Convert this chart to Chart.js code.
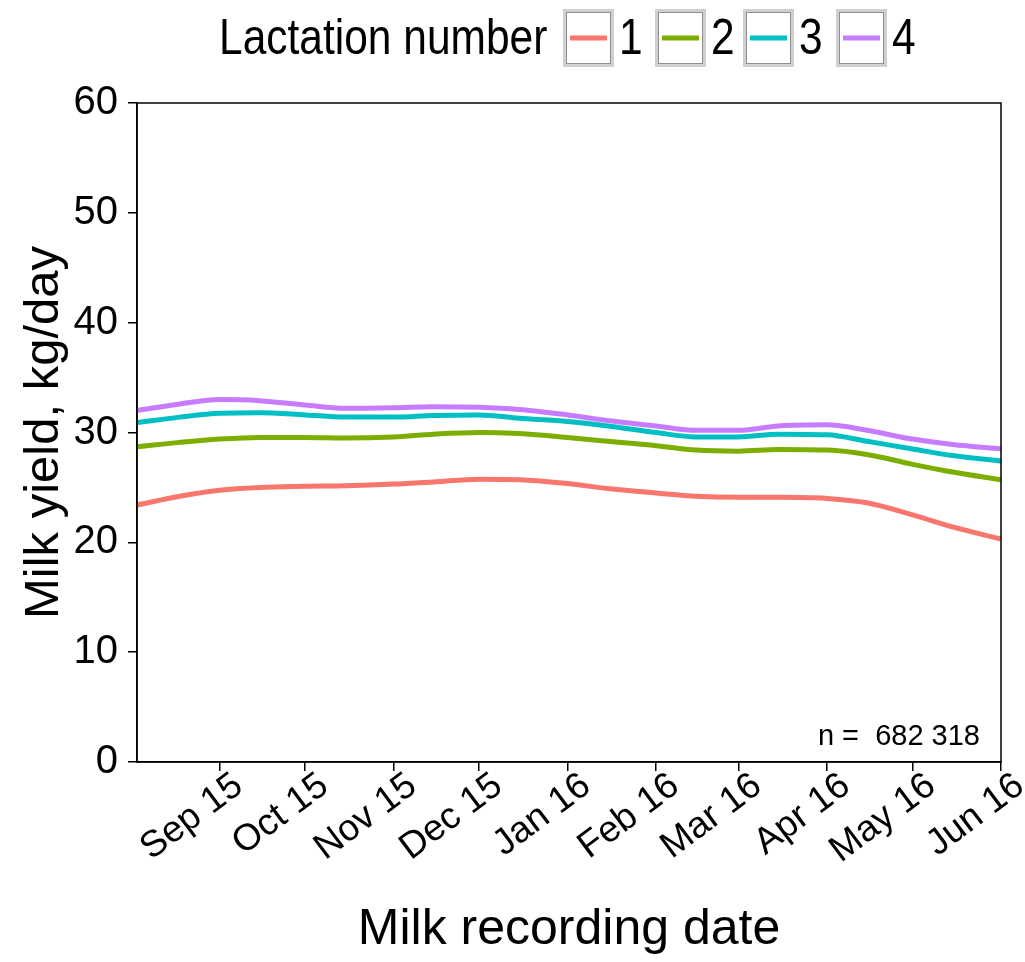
<!DOCTYPE html>
<html>
<head>
<meta charset="utf-8">
<script src="https://cdn.jsdelivr.net/npm/chart.js@4/dist/chart.umd.min.js"></script>
<style>
  html, body { margin: 0; padding: 0; background: #fff; }
  #wrap { width: 1025px; height: 962px; }
</style>
</head>
<body>
<div id="wrap"><canvas id="milk" width="1025" height="962"></canvas></div>
<script>
// Daily milk yield by lactation number over the recording season
const startDate = '2015-08-03';
const endDate = '2016-06-01';

const sampleDates = [
  '2015-08-03', '2015-08-18', '2015-09-01', '2015-09-15', '2015-10-01', '2015-10-15',
  '2015-11-01', '2015-11-15', '2015-12-01', '2015-12-15', '2016-01-01', '2016-01-15',
  '2016-02-01', '2016-02-15', '2016-03-01', '2016-03-15', '2016-04-01', '2016-04-15',
  '2016-05-01', '2016-05-15', '2016-06-01'
];

const lactation1 = [23.4, 24.2, 24.75, 25.0, 25.1, 25.15, 25.3, 25.5, 25.75, 25.7, 25.35,
                    24.9, 24.5, 24.2, 24.1, 24.1, 24.0, 23.6, 22.5, 21.4, 20.3];
const lactation2 = [28.7, 29.1, 29.4, 29.55, 29.55, 29.5, 29.6, 29.85, 30.0, 29.9, 29.55,
                    29.2, 28.8, 28.4, 28.3, 28.45, 28.4, 28.0, 27.1, 26.4, 25.7];
const lactation3 = [30.9, 31.4, 31.75, 31.8, 31.6, 31.4, 31.4, 31.55, 31.6, 31.3, 31.0,
                    30.6, 30.0, 29.6, 29.6, 29.85, 29.8, 29.2, 28.5, 27.9, 27.4];
const lactation4 = [32.0, 32.6, 33.0, 32.9, 32.5, 32.2, 32.25, 32.35, 32.3, 32.1, 31.6,
                    31.1, 30.6, 30.2, 30.2, 30.6, 30.7, 30.2, 29.4, 28.9, 28.5];

const seriesNames = ['1', '2', '3', '4'];
const seriesColors = ['#F8766D', '#7CAE00', '#00BFC4', '#C77CFF'];

const tickDates = ['2015-09-01', '2015-10-01', '2015-11-01', '2015-12-01', '2016-01-01',
                   '2016-02-01', '2016-03-01', '2016-04-01', '2016-05-01', '2016-06-01'];
const tickLabels = ['Sep 15', 'Oct 15', 'Nov 15', 'Dec 15', 'Jan 16',
                    'Feb 16', 'Mar 16', 'Apr 16', 'May 16', 'Jun 16'];

const yTicks = [0, 10, 20, 30, 40, 50, 60];
const legendTitle = 'Lactation number';
const sampleSize = 'n =  682 318';

const DAY = 86400000;
const dayOf = s => (Date.parse(s) - Date.parse(startDate)) / DAY;

const seriesValues = [lactation1, lactation2, lactation3, lactation4];
const datasets = seriesValues.map((vals, i) => ({
  label: seriesNames[i],
  data: vals.map((v, j) => ({ x: dayOf(sampleDates[j]), y: v })),
  borderColor: seriesColors[i],
  backgroundColor: seriesColors[i],
  borderWidth: 5,
  pointRadius: 0,
  fill: false,
  cubicInterpolationMode: 'monotone'
}));

const FONT = "'Liberation Sans', Arial, Helvetica, sans-serif";

// Draws condensed text by squeezing the x axis of the context
function condensedText(ctx, text, x, y, squeeze) {
  ctx.save();
  ctx.translate(x, y);
  ctx.scale(squeeze, 1);
  ctx.fillText(text, 0, 0);
  ctx.restore();
}

// Panel frame, ggplot-style legend with keyed boxes, and sample size note
const decorations = {
  id: 'decorations',
  afterDraw(chart) {
    const ctx = chart.ctx;
    const a = chart.chartArea;
    ctx.save();
    ctx.strokeStyle = '#000';
    ctx.lineWidth = 1.5;
    ctx.strokeRect(a.left, a.top, a.right - a.left, a.bottom - a.top);

    // sample size
    ctx.fillStyle = '#000';
    ctx.font = '29px ' + FONT;
    ctx.textAlign = 'right';
    ctx.textBaseline = 'alphabetic';
    ctx.fillText(sampleSize, a.right - 21, a.bottom - 17);

    // legend
    const midY = 38;
    const squeeze = 0.85;
    ctx.font = '50px ' + FONT;
    ctx.textAlign = 'left';
    ctx.textBaseline = 'middle';
    ctx.fillStyle = '#000';
    condensedText(ctx, legendTitle, 219, midY + 2, squeeze);
    const boxX = [563, 655, 743, 836];
    const boxW = 51, boxH = 58;
    boxX.forEach((bx, i) => {
      const by = midY - boxH / 2;
      ctx.fillStyle = '#fff';
      ctx.fillRect(bx, by, boxW, boxH);
      ctx.strokeStyle = '#cfcfcf';
      ctx.lineWidth = 3;
      ctx.strokeRect(bx + 1.5, by + 1.5, boxW - 3, boxH - 3);
      ctx.strokeStyle = '#8f8f8f';
      ctx.lineWidth = 1;
      ctx.strokeRect(bx + 3.5, by + 3.5, boxW - 7, boxH - 7);
      ctx.strokeStyle = seriesColors[i];
      ctx.lineWidth = 5;
      ctx.beginPath();
      ctx.moveTo(bx + 7, midY);
      ctx.lineTo(bx + boxW - 7, midY);
      ctx.stroke();
      ctx.fillStyle = '#000';
      condensedText(ctx, seriesNames[i], bx + boxW + 5, midY + 2, squeeze);
    });
    ctx.restore();
  }
};

new Chart(document.getElementById('milk'), {
  type: 'line',
  data: { datasets },
  plugins: [decorations],
  options: {
    responsive: false,
    animation: false,
    layout: { padding: { top: 103, right: 24, left: 0, bottom: 0 } },
    plugins: { legend: { display: false }, tooltip: { enabled: false } },
    scales: {
      x: {
        type: 'linear',
        min: dayOf(startDate),
        max: dayOf(endDate),
        afterBuildTicks: s => { s.ticks = tickDates.map(d => ({ value: dayOf(d) })); },
        afterFit: s => { s.height = 200; s.paddingLeft = 0; s.paddingRight = 0; },
        ticks: {
          autoSkip: false,
          maxRotation: 37,
          minRotation: 37,
          padding: -7,
          labelOffset: 19,
          color: '#000',
          font: { family: FONT, size: 37 },
          callback: (v, i) => tickLabels[i]
        },
        grid: { display: true, drawOnChartArea: false, drawTicks: true, tickLength: 9, color: '#000', lineWidth: 1.5 },
        border: { display: true, color: '#000', width: 1.5 },
        title: {
          display: true,
          text: 'Milk recording date',
          color: '#000',
          font: { family: FONT, size: 50 },
          padding: { top: 0, bottom: 2 }
        }
      },
      y: {
        min: 0,
        max: 60,
        afterBuildTicks: s => { s.ticks = yTicks.map(v => ({ value: v })); },
        afterFit: s => { s.width = 137; },
        ticks: {
          padding: 10,
          color: '#000',
          font: { family: FONT, size: 40 }
        },
        grid: { display: true, drawOnChartArea: false, drawTicks: true, tickLength: 9, color: '#000', lineWidth: 1.5 },
        border: { display: true, color: '#000', width: 1.5 },
        title: {
          display: true,
          text: 'Milk yield, kg/day',
          color: '#000',
          font: { family: FONT, size: 49 },
          padding: { top: 15, bottom: 0 }
        }
      }
    }
  }
});
</script>
</body>
</html>
